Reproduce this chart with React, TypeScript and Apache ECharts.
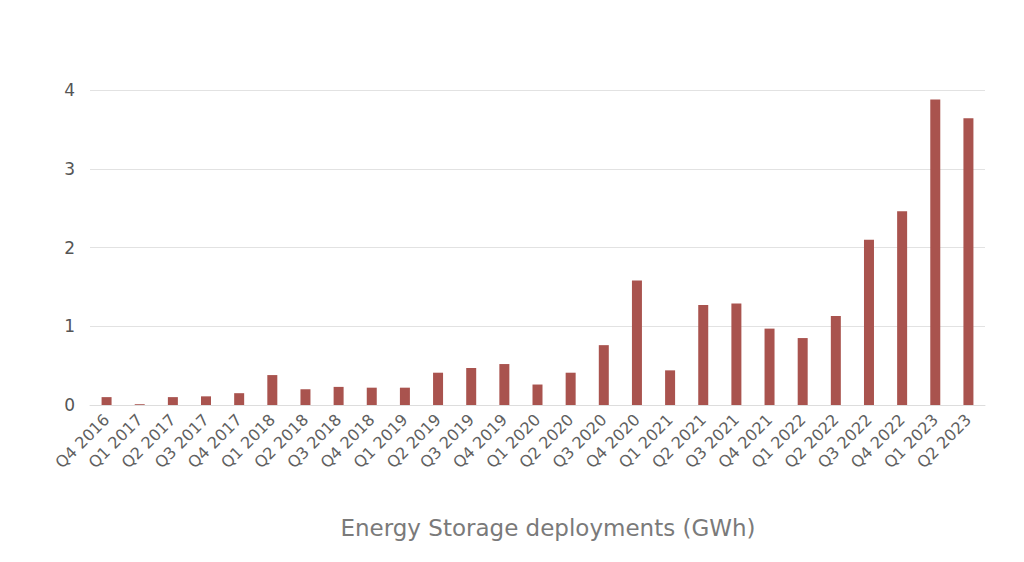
import React, { useEffect, useRef } from "react";
import * as echarts from "echarts";

const categories = [
  "Q4 2016",
  "Q1 2017", "Q2 2017", "Q3 2017", "Q4 2017",
  "Q1 2018", "Q2 2018", "Q3 2018", "Q4 2018",
  "Q1 2019", "Q2 2019", "Q3 2019", "Q4 2019",
  "Q1 2020", "Q2 2020", "Q3 2020", "Q4 2020",
  "Q1 2021", "Q2 2021", "Q3 2021", "Q4 2021",
  "Q1 2022", "Q2 2022", "Q3 2022", "Q4 2022",
  "Q1 2023", "Q2 2023",
];

const deployments = [
  0.1,
  0.01, 0.1, 0.11, 0.15,
  0.38, 0.2, 0.23, 0.22,
  0.22, 0.41, 0.47, 0.52,
  0.26, 0.41, 0.76, 1.58,
  0.44, 1.27, 1.29, 0.97,
  0.85, 1.13, 2.1, 2.46,
  3.88, 3.64,
];

const yTicks = [0, 1, 2, 3, 4];

const titleText = "Energy Storage deployments (GWh)";

export default function App() {
  const ref = useRef<HTMLDivElement>(null);

  useEffect(() => {
    document.body.style.margin = "0";
    if (!ref.current) return;
    const chart = echarts.init(ref.current, null, { renderer: "svg" });
    const font = "'DejaVu Sans', sans-serif";
    chart.setOption({
      animation: false,
      backgroundColor: "#ffffff",
      title: {
        text: titleText,
        left: 543,
        top: 511,
        textAlign: "center",
        textStyle: {
          fontFamily: font,
          fontSize: 23,
          fontWeight: "normal",
          color: "#7a7a7a",
        },
      },
      grid: { left: 90, right: 39, top: 90, bottom: 157 },
      xAxis: {
        type: "category",
        data: categories,
        axisTick: { show: false },
        axisLine: { lineStyle: { color: "#dddddd", width: 1 } },
        axisLabel: {
          rotate: 45,
          interval: 0,
          margin: 12,
          fontFamily: font,
          fontSize: 16,
          color: "#606060",
        },
      },
      yAxis: {
        type: "value",
        min: yTicks[0],
        max: yTicks[yTicks.length - 1],
        interval: 1,
        axisLine: { show: false },
        axisTick: { show: false },
        splitLine: { lineStyle: { color: "#e2e2e2", width: 1 } },
        axisLabel: {
          margin: 15,
          fontFamily: font,
          fontSize: 17,
          color: "#555555",
        },
      },
      series: [
        {
          type: "bar",
          data: deployments,
          barWidth: 10,
          itemStyle: { color: "#a9534e" },
        },
      ],
    });
    return () => chart.dispose();
  }, []);

  return (
    <div
      ref={ref}
      style={{ position: "absolute", left: 0, top: 0, width: 1024, height: 562 }}
    />
  );
}
